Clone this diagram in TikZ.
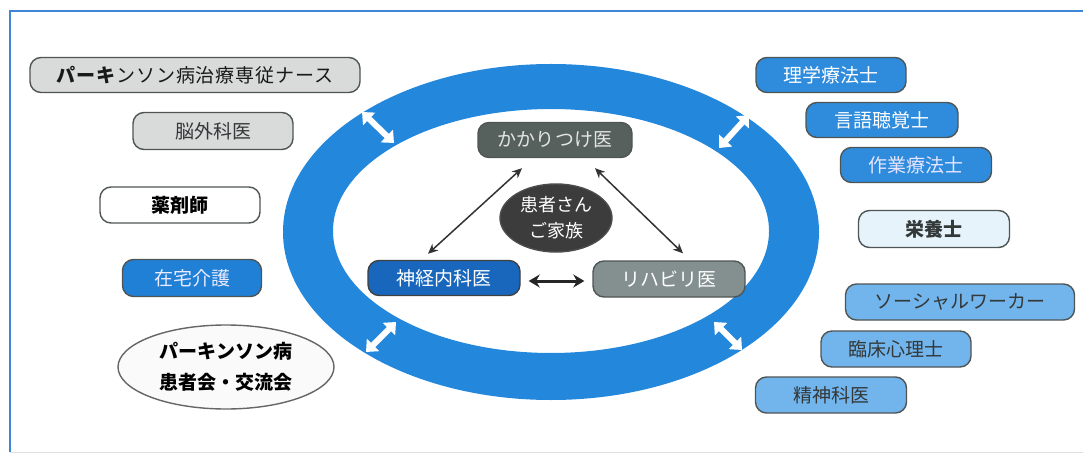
\documentclass[tikz,border=0pt]{standalone}
\usepackage{fontspec}
\newfontfamily\cjk{Noto Sans CJK JP}
\usetikzlibrary{shapes.geometric,arrows.meta}
\definecolor{ringblue}{HTML}{2388DC}
\definecolor{frameblue}{HTML}{3F86D8}
\definecolor{edgegray}{HTML}{4F5555}
\definecolor{lgray}{HTML}{D9DADA}
\definecolor{zaitaku}{HTML}{1F80D6}
\definecolor{kakari}{HTML}{56605C}
\definecolor{kanja}{HTML}{3C3C3C}
\definecolor{shinkei}{HTML}{1967BC}
\definecolor{riha}{HTML}{848F8F}
\definecolor{ptblue}{HTML}{2F8CDC}
\definecolor{paleblue}{HTML}{E6F3FB}
\definecolor{lblue}{HTML}{72B5EC}
\definecolor{darktext}{HTML}{333838}
\tikzset{
  box/.style={draw=edgegray, line width=1.4pt, rounded corners=11pt, inner sep=0pt,
    font=\cjk\fontsize{19}{22}\selectfont, align=center},
  oval/.style={ellipse, draw=edgegray, line width=1.4pt, inner sep=0pt, align=center},
  link/.style={draw=black!80, line width=1.5pt, {Stealth[length=10pt,width=9pt]}-{Stealth[length=10pt,width=9pt]}},
  hlink/.style={draw=black!85, line width=3pt, {Stealth[length=11pt,width=13pt]}-{Stealth[length=11pt,width=13pt]}},
  ringarrow/.style={draw=white, line width=6pt, {Triangle[length=10pt,width=17pt]}-{Triangle[length=10pt,width=17pt]}}
}
\begin{document}
\begin{tikzpicture}[x=1pt,y=-1pt]
\useasboundingbox (0,0) rectangle (1083,454);
\fill[white] (0,0) rectangle (1083,454);
% frame
\draw[frameblue, line width=1.6pt] (10,452) -- (10,11) -- (1083,11);
\draw[black!12, line width=1pt] (10,452) -- (1083,452);
% ring
\fill[ringblue, even odd rule] (551,232) ellipse [x radius=268, y radius=168]
  (551,231) ellipse [x radius=218, y radius=122];
% ring arrows
\coordinate (ula) at (362,112); \coordinate (ulb) at (394,143);
\coordinate (ura) at (719,148); \coordinate (urb) at (749,115);
\coordinate (lla) at (366,352); \coordinate (llb) at (396,322);
\coordinate (lra) at (714,322); \coordinate (lrb) at (742,350);
\draw[ringarrow] (ula) -- (ulb);
\draw[ringarrow] (ura) -- (urb);
\draw[ringarrow] (lla) -- (llb);
\draw[ringarrow] (lra) -- (lrb);
% left nodes
\node[box, fill=lgray, minimum width=330pt, minimum height=35pt, text=black!90,
  font=\cjk\fontsize{19}{22}\selectfont\addfontfeature{LetterSpace=5}] (nurse) at (195,75) {\textbf{パーキ}ンソン病治療専従ナース};
\node[box, fill=lgray, minimum width=160pt, minimum height=37pt, text=darktext] (noge) at (213,131) {脳外科医};
\node[box, fill=white, minimum width=160pt, minimum height=36pt, text=black] (yaku) at (180,205) {\textbf{薬剤師}};
\node[box, fill=zaitaku, minimum width=139pt, minimum height=37pt, text=white!92!blue] (zai) at (192,278) {在宅介護};
\node[oval, fill=white!98!black, draw=black!60, minimum width=216pt, minimum height=84pt,
  font=\cjk\fontsize{19}{31}\selectfont\bfseries, text=black] (kai) at (226,367) {パーキンソン病\\患者会・交流会};
% center nodes
\node[box, fill=kakari, minimum width=154pt, minimum height=35pt, text=white!90!black] (kak) at (555,140) {かかりつけ医};
\node[oval, fill=kanja, draw=black!70, minimum width=112pt, minimum height=68pt,
  font=\cjk\fontsize{18}{26}\selectfont, text=white] (kanja) at (556,218) {患者さん\\ご家族};
\node[box, fill=shinkei, draw=black!75, minimum width=152pt, minimum height=35pt, text=white] (shin) at (444,278) {神経内科医};
\node[box, fill=riha, minimum width=152pt, minimum height=36pt, text=white] (riha) at (669,279) {リハビリ医};
% center connectors
\draw[link] ([xshift=-33pt,yshift=-10pt]kak.south) -- ([xshift=-16pt,yshift=6pt]shin.north);
\draw[link] ([xshift=40pt,yshift=-10pt]kak.south) -- ([xshift=14pt,yshift=7pt]riha.north);
\draw[hlink] ([xshift=8pt,yshift=-3pt]shin.east) -- ([xshift=-8pt,yshift=-2pt]riha.west);
% right nodes
\node[box, fill=ptblue, minimum width=150pt, minimum height=35pt, text=white] (pt) at (831,75) {理学療法士};
\node[box, fill=ptblue, minimum width=152pt, minimum height=35pt, text=white] (st) at (882,120) {言語聴覚士};
\node[box, fill=ptblue, minimum width=151pt, minimum height=35pt, text=white!90!blue] (ot) at (916,165) {作業療法士};
\node[box, fill=paleblue, minimum width=151pt, minimum height=37pt, text=darktext] (eiyo) at (934,229) {\textbf{栄養士}};
\node[box, fill=lblue, minimum width=229pt, minimum height=36pt, text=darktext] (sw) at (960,302) {ソーシャルワーカー};
\node[box, fill=lblue, minimum width=150pt, minimum height=36pt, text=darktext] (cp) at (896,349) {臨床心理士};
\node[box, fill=lblue, minimum width=151pt, minimum height=36pt, text=darktext] (psy) at (831,395) {精神科医};
\end{tikzpicture}
\end{document}
